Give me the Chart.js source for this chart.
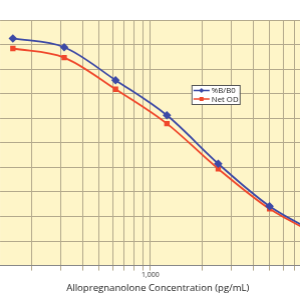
<!DOCTYPE html>
<html>
<head>
<meta charset="utf-8">
<script src="https://cdn.jsdelivr.net/npm/chart.js@4.4.1/dist/chart.umd.min.js"></script>
<style>
  html, body { margin: 0; padding: 0; background: #fff; overflow: hidden; }
  #clip { width: 300px; height: 300px; overflow: hidden; position: relative; }
  #wrap { width: 300px; height: 300px; position: absolute; left: 0; top: 0; }
</style>
</head>
<body>
<div id="clip"><div id="wrap"><canvas id="chart"></canvas></div></div>
<script>
// standard concentrations (pg/mL)
const concentrations = [156.25, 312.5, 625, 1250, 2500, 5000, 10000];
const percentBB0 = [92.5, 88.9, 75.5, 61.2, 41.5, 24.2, 12.5];
const netOD = [88.4, 84.7, 71.8, 57.8, 39.4, 23.1, 11.8];
const xGridValues = [200, 300, 400, 500, 600, 700, 800, 900, 1000, 2000, 3000, 4000, 5000, 6000, 7000];
const xLabels = { 1000: '1,000' };
const seriesNames = ['%B/B0', 'Net OD'];
const xTitle = 'Allopregnanolone Concentration (pg/mL)';

const BLUE = '#3d4aa6';
const RED = '#f0482c';
const GRID = '#b3a98c';

const plotBg = {
  id: 'plotBg',
  beforeDraw(chart) {
    const { ctx, chartArea: a } = chart;
    ctx.save();
    ctx.fillStyle = '#fef5c8';
    ctx.fillRect(a.left, a.top, a.right - a.left, a.bottom - a.top);
    ctx.restore();
  }
};

// axis title, sitting a little right of the plot centre as in the original
const axisTitle = {
  id: 'axisTitle',
  afterDraw(chart) {
    const ctx = chart.ctx;
    ctx.save();
    ctx.font = '9.6px "Open Sans", sans-serif';
    ctx.fillStyle = '#222';
    ctx.textAlign = 'center';
    ctx.textBaseline = 'alphabetic';
    ctx.fillText(xTitle, chart.chartArea.left + 157.5, 291);
    ctx.restore();
  }
};

// small boxed legend inside the plot
const boxLegend = {
  id: 'boxLegend',
  afterDraw(chart) {
    const ctx = chart.ctx;
    const x = chart.chartArea.left + 191, y = 85, w = 48, h = 19;
    ctx.save();
    ctx.fillStyle = '#fff';
    ctx.fillRect(x, y, w, h);
    ctx.strokeStyle = '#555';
    ctx.lineWidth = 1;
    ctx.strokeRect(x + 0.5, y + 0.5, w, h);
    ctx.font = '7.8px "Open Sans", sans-serif';
    ctx.textBaseline = 'middle';
    chart.data.datasets.forEach((ds, i) => {
      const cy = y + 5.5 + i * 8.5;
      ctx.strokeStyle = ds.borderColor;
      ctx.lineWidth = 1.5;
      ctx.beginPath();
      ctx.moveTo(x + 2, cy);
      ctx.lineTo(x + 18, cy);
      ctx.stroke();
      ctx.fillStyle = ds.borderColor;
      if (i === 0) {
        ctx.beginPath();
        ctx.moveTo(x + 10, cy - 2.5);
        ctx.lineTo(x + 12.5, cy);
        ctx.lineTo(x + 10, cy + 2.5);
        ctx.lineTo(x + 7.5, cy);
        ctx.closePath();
        ctx.fill();
      } else {
        ctx.fillRect(x + 8, cy - 2, 4, 4);
      }
      ctx.fillStyle = '#222';
      ctx.fillText(ds.label, x + 20, cy + 0.5);
    });
    ctx.restore();
  }
};

const chart = new Chart(document.getElementById('chart'), {
  type: 'line',
  data: {
    datasets: [
      {
        label: seriesNames[0],
        data: concentrations.map((c, i) => ({ x: c, y: percentBB0[i] })),
        borderColor: BLUE,
        backgroundColor: BLUE,
        borderWidth: 1.8,
        pointStyle: 'rectRot',
        pointRadius: 3,
        cubicInterpolationMode: 'monotone'
      },
      {
        label: seriesNames[1],
        data: concentrations.map((c, i) => ({ x: c, y: netOD[i] })),
        borderColor: RED,
        backgroundColor: RED,
        borderWidth: 1.8,
        pointStyle: 'rect',
        pointRadius: 2.5,
        cubicInterpolationMode: 'monotone'
      }
    ]
  },
  options: {
    responsive: true,
    maintainAspectRatio: false,
    animation: false,
    layout: { padding: { top: 20, left: 0, right: 0, bottom: 21 } },
    plugins: { legend: { display: false }, tooltip: { enabled: false } },
    scales: {
      x: {
        type: 'logarithmic',
        min: 131,
        max: 7625,
        afterBuildTicks(scale) {
          scale.ticks = xGridValues.map(v => ({ value: v }));
        },
        ticks: {
          autoSkip: false,
          maxRotation: 0,
          padding: 0,
          color: '#333',
          font: { family: '"Open Sans", sans-serif', size: 7 },
          callback: v => xLabels[v] || ''
        },
        grid: { color: GRID, lineWidth: 1, tickLength: 5 },
        border: { color: '#888', width: 1 }
      },
      y: {
        min: 0,
        max: 100,
        ticks: { display: false, stepSize: 10 },
        grid: { color: GRID, lineWidth: 1, drawTicks: false },
        border: { display: false }
      }
    }
  },
  plugins: [plotBg, axisTitle, boxLegend]
});

// stretch the canvas so the plot area itself spans the full 300px width
const a = chart.chartArea;
const padL = a.left, padR = chart.width - a.right;
const wrap = document.getElementById('wrap');
wrap.style.left = (-padL) + 'px';
wrap.style.width = (300 + padL + padR) + 'px';
chart.resize();
</script>
</body>
</html>
